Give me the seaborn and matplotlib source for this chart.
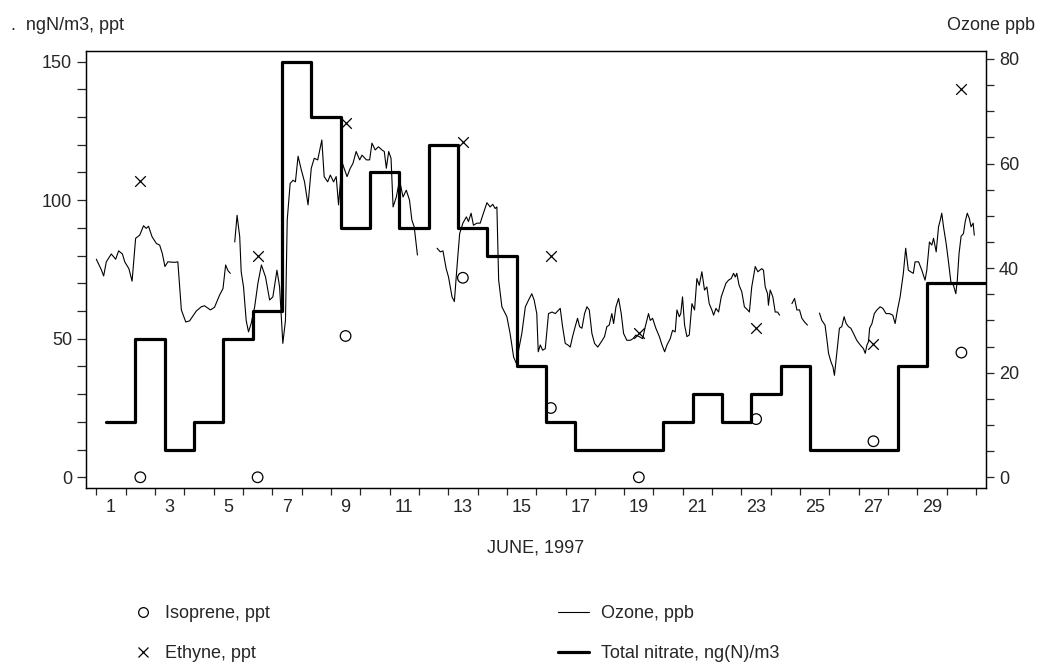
import numpy as np
import pandas as pd
import matplotlib
matplotlib.use("Agg")
import matplotlib.pyplot as plt
from matplotlib.lines import Line2D
from matplotlib.ticker import FixedLocator, MultipleLocator, NullFormatter
import seaborn as sns

# total nitrate, one filter per day starting 08:00, ng(N)/m3
nitrate_day = list(range(1, 31))
nitrate = [20, 50, 10, 20, 50, 60, 150, 130, 90, 110, 90, 120, 90, 80, 40,
           20, 10, 10, 10, 20, 30, 20, 30, 40, 10, 10, 10, 40, 70, 70]

# canister samples taken at noon, ppt
voc_day = [2, 6, 9, 13, 16, 19, 23, 27, 30]
isoprene = [0, 0, 51, 72, 25, 0, 21, 13, 45]
ethyne = [107, 80, 128, 121, 80, 52, 54, 48, 140]

# ozone, ppb (nan marks missing data)
nan = np.nan
ozone_t = [1.00, 1.17, 1.25, 1.34, 1.51, 1.66, 1.76, 1.89, 1.97, 2.11, 2.22, 2.34,
           2.48, 2.61, 2.70, 2.78, 2.90, 3.05, 3.16, 3.25, 3.34, 3.44, 3.67, 3.78,
           3.90, 4.05, 4.18, 4.41, 4.58, 4.69, 4.89, 5.03, 5.20, 5.32, 5.41, 5.49,
           5.57, 5.65,
           5.72, 5.80, 5.89, 5.94, 6.02, 6.11, 6.19, 6.28, 6.40, 6.51, 6.63, 6.77,
           6.91, 7.02, 7.16, 7.25, 7.36, 7.45, 7.51, 7.61, 7.71, 7.79, 7.88, 7.99,
           8.10, 8.22, 8.33, 8.43, 8.55, 8.69, 8.77, 8.89, 8.98, 9.09, 9.18, 9.26,
           9.38, 9.43, 9.55, 9.66, 9.75, 9.86, 9.98, 10.06, 10.21, 10.32, 10.40,
           10.51, 10.62, 10.74, 10.82, 10.89, 10.97, 11.05, 11.12, 11.23, 11.34,
           11.46, 11.57, 11.68, 11.76, 11.84, 11.95, 12.30,
           12.62, 12.73, 12.82, 12.93, 13.01, 13.13, 13.21, 13.30, 13.39, 13.50,
           13.62, 13.69, 13.78, 13.86, 13.98, 14.09, 14.20, 14.32, 14.43, 14.52,
           14.60, 14.66, 14.72, 14.83, 15.00, 15.11, 15.23, 15.32, 15.40, 15.51,
           15.63, 15.74, 15.85, 15.93, 16.02, 16.07, 16.14, 16.22, 16.31, 16.42,
           16.54, 16.65, 16.82, 16.90, 16.99, 17.08, 17.16, 17.24, 17.33, 17.41,
           17.48, 17.56, 17.65, 17.73, 17.81, 17.90, 17.99, 18.10, 18.22, 18.33,
           18.41, 18.49, 18.58, 18.64, 18.72, 18.81, 18.90, 18.98, 19.09, 19.21,
           19.30, 19.40, 19.51, 19.63, 19.72, 19.83, 19.89, 19.97, 20.08, 20.20,
           20.29, 20.38, 20.46, 20.57, 20.65, 20.74, 20.80, 20.88, 20.93, 20.99,
           21.06, 21.14, 21.22, 21.31, 21.40, 21.48, 21.56, 21.65, 21.74, 21.82,
           21.90, 21.99, 22.05, 22.13, 22.22, 22.31, 22.39, 22.47, 22.56, 22.65,
           22.73, 22.79, 22.84, 22.92, 23.01, 23.10, 23.21, 23.27, 23.35, 23.47,
           23.56, 23.69, 23.75, 23.81, 23.89, 23.92, 23.98, 24.07, 24.15, 24.23,
           24.30, 24.50,
           24.72, 24.81, 24.89, 24.98, 25.06, 25.15, 25.25, 25.45,
           25.66, 25.74, 25.85, 25.91, 25.97, 26.05, 26.12, 26.17, 26.25, 26.34,
           26.42, 26.50, 26.57, 26.65, 26.73, 26.82, 26.93, 27.05, 27.16, 27.22,
           27.28, 27.33, 27.37, 27.45, 27.53, 27.62, 27.73, 27.82, 27.93, 28.05,
           28.16, 28.24, 28.32, 28.41, 28.52, 28.60, 28.69, 28.77, 28.86, 28.92,
           29.04, 29.15, 29.26, 29.32, 29.41, 29.49, 29.55, 29.64, 29.72, 29.78,
           29.83, 29.89, 29.98, 30.06, 30.14, 30.23, 30.31, 30.36, 30.42, 30.49,
           30.57, 30.63, 30.70, 30.77, 30.83, 30.90, 30.94]
ozone_v = [41.7, 39.7, 38.5, 41.2, 42.7, 41.7, 43.3, 42.7, 41.2, 39.9, 37.5, 45.7,
           46.3, 48.1, 47.6, 48.0, 46.0, 44.7, 44.4, 42.8, 40.3, 41.2, 41.1, 41.2,
           32.0, 29.7, 29.9, 31.8, 32.6, 32.8, 32.0, 32.5, 34.8, 36.1, 40.6, 39.5,
           39.0, nan,
           45.0, 50.1, 46.0, 39.3, 36.4, 30.0, 27.8, 29.4, 32.6, 37.1, 40.6, 38.3,
           33.9, 34.5, 39.6, 36.4, 25.6, 30.0, 49.2, 56.2, 56.8, 56.5, 61.4, 58.8,
           56.5, 52.1, 59.1, 61.0, 60.7, 64.5, 57.5, 56.5, 57.8, 56.5, 57.5, 52.1,
           60.3, 59.4, 57.5, 59.1, 60.0, 62.3, 60.7, 61.6, 60.7, 60.7, 63.9,
           62.6, 63.2, 62.6, 62.3, 59.1, 62.3, 61.0, 51.7, 53.6, 56.8,
           53.6, 54.9, 53.0, 49.2, 47.9, 42.5, nan,
           43.8, 43.1, 43.3, 39.9, 38.3, 34.5, 33.6, 40.3, 46.6, 48.6,
           49.8, 48.9, 50.5, 48.2, 48.6, 48.6, 50.5, 52.5, 51.7, 52.2,
           51.4, 51.7, 37.7, 32.6, 30.7, 27.5, 23.0, 21.8, 24.3, 27.5,
           32.6, 33.9, 35.1, 33.9, 31.3, 24.0, 25.3, 24.3, 24.6, 31.3,
           31.6, 31.3, 32.3, 28.8, 25.6, 25.3, 24.9, 26.9, 28.8, 30.4,
           28.8, 28.5, 31.3, 32.6, 32.0, 27.5, 25.6, 24.9, 25.9, 26.9,
           28.8, 29.1, 31.3, 29.4, 32.6, 34.2, 31.3, 27.5, 26.2, 26.2,
           26.5, 27.2, 26.9, 26.5, 28.8, 31.3, 30.0, 30.4, 28.5, 26.9,
           25.3, 24.0, 25.3, 26.5, 28.1, 27.8, 32.0, 30.7, 31.3, 34.5,
           29.1, 26.9, 27.2, 33.2, 32.0, 38.0, 36.7, 39.3, 35.8, 36.4,
           33.2, 32.0, 31.0, 32.3, 31.6, 34.5, 35.8, 37.1, 37.7, 38.0,
           39.0, 38.3, 39.0, 36.7, 35.5, 32.6, 32.0, 31.6, 36.4, 40.3,
           39.3, 39.9, 39.6, 36.4, 35.1, 32.9, 35.8, 34.5, 31.6, 31.6,
           31.0, nan,
           33.2, 34.2, 32.0, 32.0, 30.4, 29.7, 29.1, nan,
           31.4, 30.0, 29.1, 26.5, 23.7, 22.1, 21.1, 19.5, 23.7, 28.5,
           28.8, 30.7, 29.4, 28.8, 28.5, 27.5, 26.2, 25.3, 24.6, 23.7,
           25.3, 25.9, 28.5, 29.4, 31.3, 32.0, 32.6, 32.3, 31.3, 31.3,
           31.0, 29.4, 32.0, 34.5, 39.0, 43.8, 39.6, 39.3, 39.0, 41.2,
           41.2, 39.6, 37.7, 39.6, 45.0, 44.4, 45.7, 43.1, 47.9, 49.2,
           50.5, 47.9, 44.7, 41.2, 37.4, 36.7, 35.1, 37.7, 42.8, 46.1,
           46.6, 48.9, 50.5, 49.5, 47.9, 48.6, 46.3]

oz = pd.DataFrame({"t": ozone_t, "v": ozone_v})
oz["seg"] = oz["v"].isna().cumsum()
oz = oz.dropna()

nit = pd.DataFrame({"t": [d + 8 / 24 for d in nitrate_day] + [nitrate_day[-1] + 1 + 8 / 24],
                    "v": nitrate + [nitrate[-1]]})
voc = pd.DataFrame({"t": [d + 0.5 for d in voc_day], "iso": isoprene, "eth": ethyne})

sns.set_style("ticks")
plt.rcParams["font.family"] = ["Liberation Sans", "DejaVu Sans"]
fs = 13

fig = plt.figure(figsize=(10.44, 6.67), dpi=100)
ax = fig.add_axes([0.0824, 0.2684, 0.8618, 0.6552])
ax2 = ax.twinx()

sns.lineplot(data=nit, x="t", y="v", ax=ax, color="black", lw=2.3,
             drawstyle="steps-post", estimator=None)
sns.scatterplot(data=voc, x="t", y="iso", ax=ax, marker="o", s=58,
                facecolor="none", edgecolor="black", linewidth=0.9, zorder=4)
sns.scatterplot(data=voc, x="t", y="eth", ax=ax, marker="x", s=58,
                color="black", linewidth=0.9, zorder=4)
sns.lineplot(data=oz, x="t", y="v", units="seg", estimator=None, ax=ax2,
             color="black", lw=0.8)

ax.set_xlim(0.649, 31.33)
ax.set_ylim(-3.86, 153.86)
ax2.set_ylim(-2.05, 81.53)

ax.xaxis.set_major_locator(FixedLocator(list(range(1, 32))))
ax.xaxis.set_major_formatter(NullFormatter())
ax.xaxis.set_minor_locator(FixedLocator([d + 0.5 for d in range(1, 30, 2)]))
ax.set_xticklabels([str(d) for d in range(1, 30, 2)], minor=True)
ax.tick_params(axis="x", which="major", direction="out", length=5, width=0.9)
ax.tick_params(axis="x", which="minor", length=0, pad=8, labelsize=fs)

ax.yaxis.set_major_locator(FixedLocator([0, 50, 100, 150]))
ax.yaxis.set_minor_locator(MultipleLocator(10))
ax.tick_params(axis="y", which="both", direction="out", length=6.5, width=0.9,
               labelsize=fs, pad=3.5, left=True)
ax2.yaxis.set_major_locator(FixedLocator([0, 20, 40, 60, 80]))
ax2.yaxis.set_minor_locator(MultipleLocator(5))
ax2.tick_params(axis="y", which="both", direction="out", length=5.5, width=0.9,
                labelsize=fs, pad=4)

for a in (ax, ax2):
    for sp in a.spines.values():
        sp.set_linewidth(0.9)
        sp.set_color("black")
ax2.set_ylabel("")
ax.set_ylabel("")
ax.set_xlabel("JUNE, 1997", fontsize=fs, labelpad=16.5)

fig.text(0.011, 1 - 30 / 667, ".  ngN/m3, ppt", fontsize=fs, va="baseline", ha="left")
fig.text(0.991, 1 - 30 / 667, "Ozone ppb", fontsize=fs, va="baseline", ha="right")

h_iso = Line2D([], [], ls="none", marker="o", mfc="none", mec="black", ms=7, mew=0.9)
h_eth = Line2D([], [], ls="none", marker="x", color="black", ms=7, mew=0.9)
h_oz = Line2D([], [], color="black", lw=0.8)
h_nit = Line2D([], [], color="black", lw=2.3)

leg1 = fig.legend(handles=[h_iso, h_eth], labels=["Isoprene, ppt", "Ethyne, ppt"],
                  loc="upper left", bbox_to_anchor=(128 / 1044, 1 - 605 / 667),
                  frameon=False, fontsize=fs, handlelength=1.7, handletextpad=0.37,
                  labelspacing=1.28, borderpad=0, borderaxespad=0)
leg2 = fig.legend(handles=[h_oz, h_nit], labels=["Ozone, ppb", "Total nitrate, ng(N)/m3"],
                  loc="upper left", bbox_to_anchor=(558 / 1044, 1 - 605 / 667),
                  frameon=False, fontsize=fs, handlelength=1.7, handletextpad=0.7,
                  labelspacing=1.28, borderpad=0, borderaxespad=0)

fig.savefig("out.png", dpi=100)
